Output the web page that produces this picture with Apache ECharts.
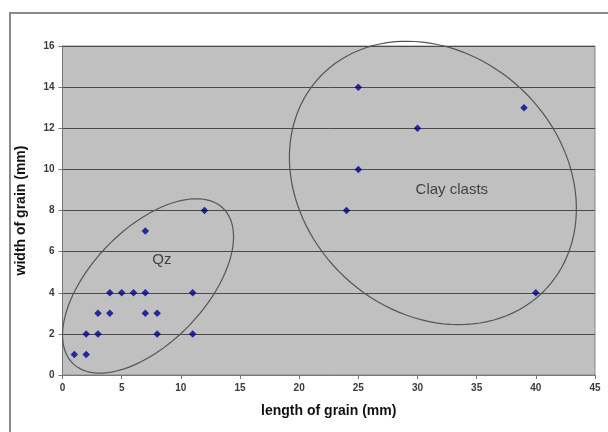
<!DOCTYPE html>
<html>
<head>
<meta charset="utf-8">
<script src="https://cdn.jsdelivr.net/npm/echarts@6/dist/echarts.min.js"></script>
<style>
  html, body { margin: 0; padding: 0; background: #fff; }
  #chart { width: 608px; height: 432px; }
</style>
</head>
<body>
<div id="chart"></div>
<script>
// Grain measurements: [length (mm), width (mm)]
const quartzGrains = [
  [1, 1], [2, 1], [2, 2], [3, 2], [8, 2], [11, 2],
  [3, 3], [4, 3], [7, 3], [8, 3],
  [4, 4], [5, 4], [6, 4], [7, 4], [11, 4],
  [7, 7], [12, 8]
];
const clayClasts = [
  [25, 14], [39, 13], [30, 12], [25, 10], [24, 8], [40, 4]
];
const xTicks = { min: 0, max: 45, step: 5 };
const yTicks = { min: 0, max: 16, step: 2 };

// Outline groups: centre in data units, radii in pixels, tilt in degrees
const groups = [
  { label: 'Qz', center: [7.23, 4.33], labelAt: [8.4, 5.6], rx: 108, ry: 57, tilt: 46 },
  { label: 'Clay clasts', center: [31.3, 9.34], labelAt: [32.9, 9.0], rx: 155, ry: 129, tilt: -43 }
];

const chart = echarts.init(document.getElementById('chart'), null, { renderer: 'canvas' });

const font = 'Liberation Sans, Arial, sans-serif';
const tickLabel = { color: '#3a3a3a', fontSize: 10, fontWeight: 'bold', fontFamily: font };
const nameStyle = { color: '#111', fontSize: 14, fontWeight: 'bold', fontFamily: font };

chart.setOption({
  animation: false,
  backgroundColor: '#fff',
  graphic: [{
    type: 'rect',
    shape: { x: 10, y: 13, width: 640, height: 460 },
    style: { fill: null, stroke: '#8a8a8a', lineWidth: 2 },
    silent: true
  }],
  grid: {
    left: 62.5, right: 13, top: 46, bottom: 57,
    show: true, backgroundColor: '#c0c0c0', borderColor: '#8a8a8a', borderWidth: 1
  },
  xAxis: {
    type: 'value', min: xTicks.min, max: xTicks.max, interval: xTicks.step,
    name: 'length of grain (mm)', nameLocation: 'middle', nameGap: 29, nameTextStyle: nameStyle,
    axisLine: { show: true, lineStyle: { color: '#777', width: 1 } },
    axisTick: { show: true, length: 4, lineStyle: { color: '#777' } },
    axisLabel: Object.assign({ margin: 8 }, tickLabel),
    splitLine: { show: false }
  },
  yAxis: {
    type: 'value', min: yTicks.min, max: yTicks.max, interval: yTicks.step,
    name: 'width of grain (mm)', nameLocation: 'middle', nameGap: 34, nameTextStyle: nameStyle,
    axisLine: { show: true, lineStyle: { color: '#777', width: 1 } },
    axisTick: { show: true, length: 4, lineStyle: { color: '#777' } },
    axisLabel: Object.assign({ margin: 8 }, tickLabel),
    splitLine: { show: true, lineStyle: { color: '#4a4a4a', width: 1 } }
  },
  series: [
    {
      type: 'custom',
      data: groups.map(g => g.center.concat([g.rx, g.ry, g.tilt])),
      z: 1,
      silent: true,
      renderItem: function (params, api) {
        const p = api.coord([api.value(0), api.value(1)]);
        const rx = api.value(2), ry = api.value(3), t = api.value(4) * Math.PI / 180;
        const pts = [];
        for (let i = 0; i < 120; i++) {
          const a = i / 120 * Math.PI * 2;
          const ex = rx * Math.cos(a), ey = ry * Math.sin(a);
          pts.push([p[0] + ex * Math.cos(t) - ey * Math.sin(t), p[1] - (ex * Math.sin(t) + ey * Math.cos(t))]);
        }
        return { type: 'polygon', shape: { points: pts }, style: { fill: null, stroke: '#555', lineWidth: 1.2 } };
      }
    },
    {
      type: 'scatter',
      data: groups.map(g => ({ value: g.labelAt, name: g.label })),
      symbolSize: 0,
      silent: true,
      label: {
        show: true, position: 'inside', formatter: '{b}',
        color: '#222', fontSize: 15, fontFamily: font
      }
    },
    {
      name: 'Qz', type: 'scatter', data: quartzGrains,
      symbol: 'diamond', symbolSize: 7.5, itemStyle: { color: '#00008c' }, z: 3
    },
    {
      name: 'Clay clasts', type: 'scatter', data: clayClasts,
      symbol: 'diamond', symbolSize: 7.5, itemStyle: { color: '#00008c' }, z: 3
    }
  ]
});
</script>
</body>
</html>
